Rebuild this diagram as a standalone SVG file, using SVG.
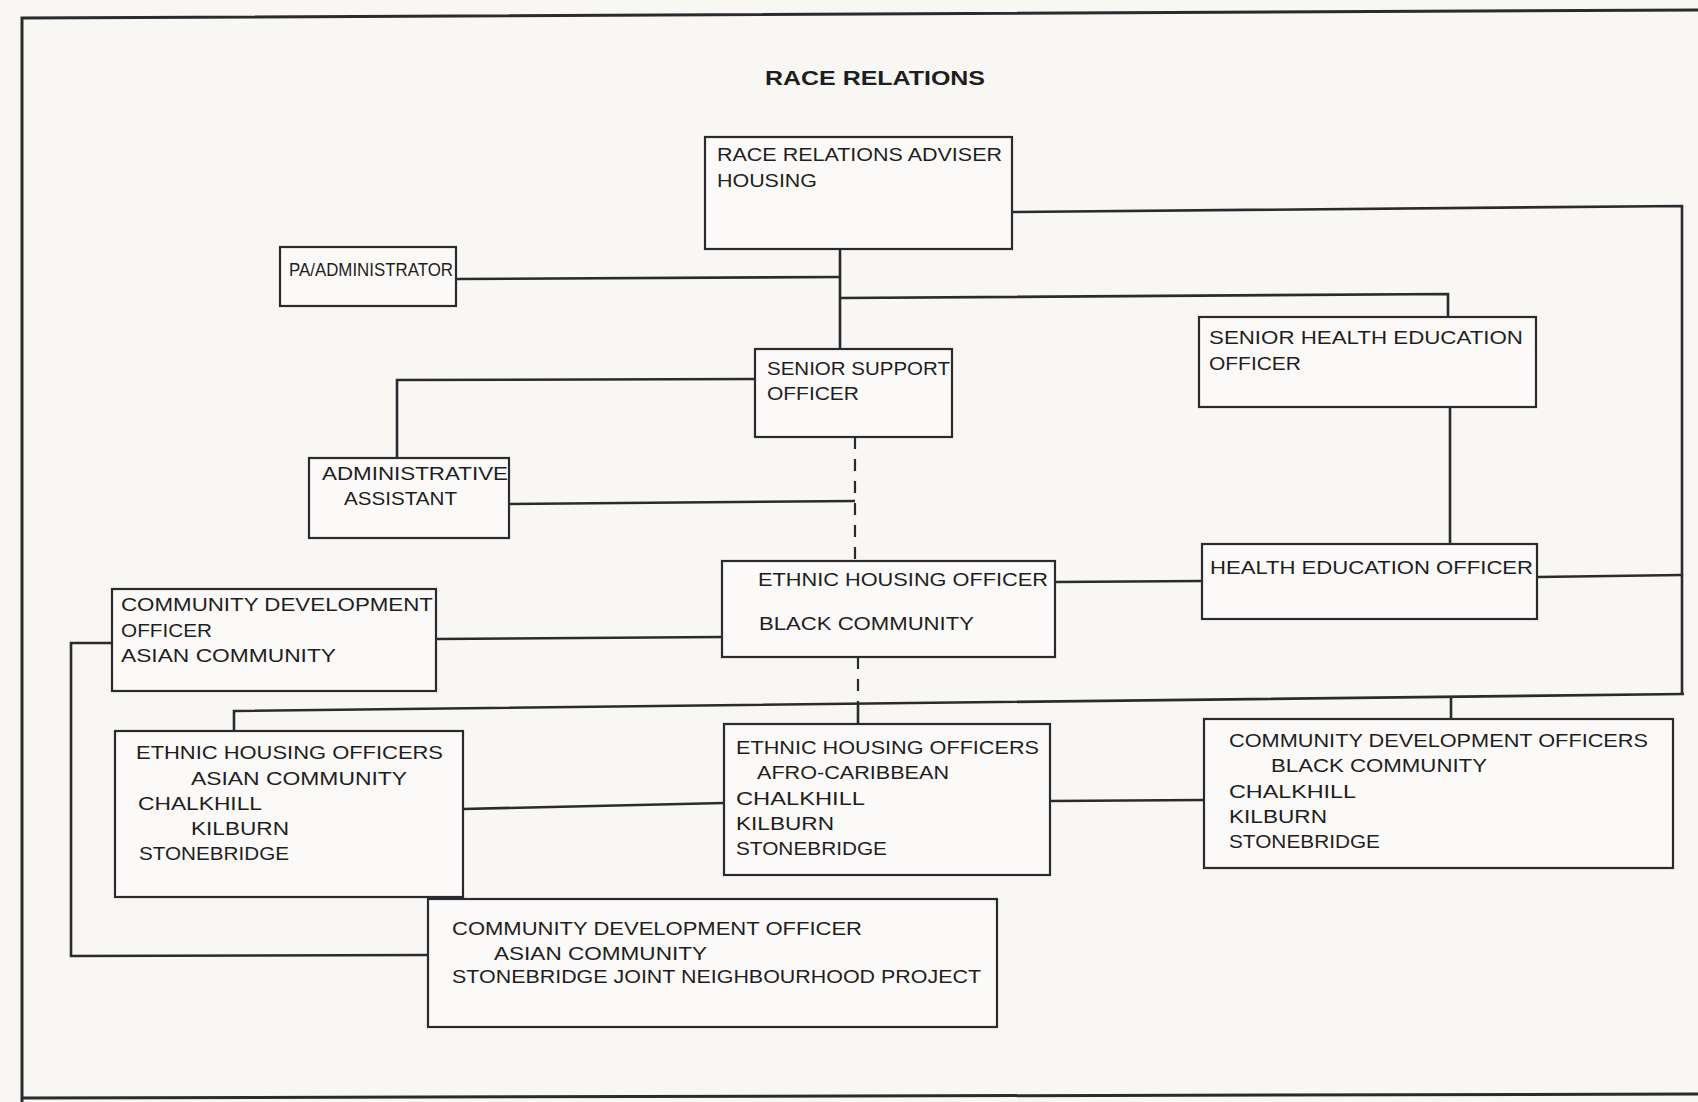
<svg xmlns="http://www.w3.org/2000/svg" width="1698" height="1102" viewBox="0 0 1698 1102">
<style>
.bg{fill:#f8f7f4}
.box{fill:#fbfaf8;stroke:#2b2a2e;stroke-width:2.2}
.ln{fill:none;stroke:#2b2a2e;stroke-width:2.6}
.dash{fill:none;stroke:#2b2a2e;stroke-width:2.2;stroke-dasharray:12 10}
.frame{fill:none;stroke:#2b2a2e;stroke-width:3}
text{font-family:"Liberation Sans",Arial,sans-serif;font-size:19px;fill:#1e1d22}
.title{font-size:21px;font-weight:bold}
</style>
<rect class="bg" x="0" y="0" width="1698" height="1102"/>
<g id="frame">
<polyline class="frame" points="22,1102 22,18 1698,10"/>
<line class="frame" x1="22" y1="1098" x2="1698" y2="1094"/>
</g>
<text class="title" x="765" y="85" textLength="220" lengthAdjust="spacingAndGlyphs">RACE RELATIONS</text>
<g id="connectors">
<polyline class="ln" points="1012,212 1682,206 1682,694"/>
<polyline class="ln" points="1684,694 234,711 234,731"/>
<line class="ln" x1="858" y1="704" x2="858" y2="724"/>
<line class="ln" x1="1451" y1="698" x2="1451" y2="719"/>
<line class="dash" x1="858" y1="657" x2="858" y2="704"/>
<line class="ln" x1="840" y1="249" x2="840" y2="349"/>
<line class="ln" x1="456" y1="279" x2="840" y2="277"/>
<polyline class="ln" points="840,298 1448,294 1448,317"/>
<polyline class="ln" points="755,379 397,380 397,458"/>
<line class="dash" x1="855" y1="437" x2="855" y2="561"/>
<line class="ln" x1="509" y1="504" x2="855" y2="501"/>
<line class="ln" x1="1450" y1="407" x2="1450" y2="544"/>
<line class="ln" x1="1055" y1="582" x2="1202" y2="581"/>
<line class="ln" x1="1537" y1="577" x2="1682" y2="575"/>
<line class="ln" x1="436" y1="639" x2="722" y2="637"/>
<polyline class="ln" points="112,643 71,643 71,956 428,955"/>
<line class="ln" x1="463" y1="809" x2="724" y2="803"/>
<line class="ln" x1="1050" y1="801" x2="1204" y2="800"/>
</g>
<g id="adviser">
<rect class="box" x="705" y="137" width="307" height="112"/>
<text x="717" y="161" textLength="285" lengthAdjust="spacingAndGlyphs">RACE RELATIONS ADVISER</text>
<text x="717" y="187" textLength="100" lengthAdjust="spacingAndGlyphs">HOUSING</text>
</g>
<g id="pa-administrator">
<rect class="box" x="280" y="247" width="176" height="59"/>
<text x="289" y="276" textLength="164" lengthAdjust="spacingAndGlyphs">PA/ADMINISTRATOR</text>
</g>
<g id="senior-support-officer">
<rect class="box" x="755" y="349" width="197" height="88"/>
<text x="767" y="375" textLength="183" lengthAdjust="spacingAndGlyphs">SENIOR SUPPORT</text>
<text x="767" y="400" textLength="92" lengthAdjust="spacingAndGlyphs">OFFICER</text>
</g>
<g id="senior-health-education-officer">
<rect class="box" x="1199" y="317" width="337" height="90"/>
<text x="1209" y="344" textLength="314" lengthAdjust="spacingAndGlyphs">SENIOR HEALTH EDUCATION</text>
<text x="1209" y="370" textLength="92" lengthAdjust="spacingAndGlyphs">OFFICER</text>
</g>
<g id="administrative-assistant">
<rect class="box" x="309" y="458" width="200" height="80"/>
<text x="322" y="480" textLength="186" lengthAdjust="spacingAndGlyphs">ADMINISTRATIVE</text>
<text x="344" y="505" textLength="113" lengthAdjust="spacingAndGlyphs">ASSISTANT</text>
</g>
<g id="ethnic-housing-officer-black">
<rect class="box" x="722" y="561" width="333" height="96"/>
<text x="758" y="586" textLength="290" lengthAdjust="spacingAndGlyphs">ETHNIC HOUSING OFFICER</text>
<text x="759" y="630" textLength="215" lengthAdjust="spacingAndGlyphs">BLACK COMMUNITY</text>
</g>
<g id="health-education-officer">
<rect class="box" x="1202" y="544" width="335" height="75"/>
<text x="1210" y="574" textLength="323" lengthAdjust="spacingAndGlyphs">HEALTH EDUCATION OFFICER</text>
</g>
<g id="community-development-officer-asian">
<rect class="box" x="112" y="589" width="324" height="102"/>
<text x="121" y="611" textLength="312" lengthAdjust="spacingAndGlyphs">COMMUNITY DEVELOPMENT</text>
<text x="121" y="637" textLength="91" lengthAdjust="spacingAndGlyphs">OFFICER</text>
<text x="121" y="662" textLength="215" lengthAdjust="spacingAndGlyphs">ASIAN COMMUNITY</text>
</g>
<g id="ethnic-housing-officers-asian">
<rect class="box" x="115" y="731" width="348" height="166"/>
<text x="136" y="759" textLength="307" lengthAdjust="spacingAndGlyphs">ETHNIC HOUSING OFFICERS</text>
<text x="191" y="785" textLength="216" lengthAdjust="spacingAndGlyphs">ASIAN COMMUNITY</text>
<text x="138" y="810" textLength="124" lengthAdjust="spacingAndGlyphs">CHALKHILL</text>
<text x="191" y="835" textLength="98" lengthAdjust="spacingAndGlyphs">KILBURN</text>
<text x="139" y="860" textLength="150" lengthAdjust="spacingAndGlyphs">STONEBRIDGE</text>
</g>
<g id="ethnic-housing-officers-afro-caribbean">
<rect class="box" x="724" y="724" width="326" height="151"/>
<text x="736" y="754" textLength="303" lengthAdjust="spacingAndGlyphs">ETHNIC HOUSING OFFICERS</text>
<text x="757" y="779" textLength="192" lengthAdjust="spacingAndGlyphs">AFRO-CARIBBEAN</text>
<text x="736" y="805" textLength="129" lengthAdjust="spacingAndGlyphs">CHALKHILL</text>
<text x="736" y="830" textLength="98" lengthAdjust="spacingAndGlyphs">KILBURN</text>
<text x="736" y="855" textLength="151" lengthAdjust="spacingAndGlyphs">STONEBRIDGE</text>
</g>
<g id="community-development-officers-black">
<rect class="box" x="1204" y="719" width="469" height="149"/>
<text x="1229" y="747" textLength="419" lengthAdjust="spacingAndGlyphs">COMMUNITY DEVELOPMENT OFFICERS</text>
<text x="1271" y="772" textLength="216" lengthAdjust="spacingAndGlyphs">BLACK COMMUNITY</text>
<text x="1229" y="798" textLength="127" lengthAdjust="spacingAndGlyphs">CHALKHILL</text>
<text x="1229" y="823" textLength="98" lengthAdjust="spacingAndGlyphs">KILBURN</text>
<text x="1229" y="848" textLength="151" lengthAdjust="spacingAndGlyphs">STONEBRIDGE</text>
</g>
<g id="community-development-officer-stonebridge">
<rect class="box" x="428" y="899" width="569" height="128"/>
<text x="452" y="935" textLength="410" lengthAdjust="spacingAndGlyphs">COMMUNITY DEVELOPMENT OFFICER</text>
<text x="494" y="960" textLength="213" lengthAdjust="spacingAndGlyphs">ASIAN COMMUNITY</text>
<text x="452" y="983" textLength="529" lengthAdjust="spacingAndGlyphs">STONEBRIDGE JOINT NEIGHBOURHOOD PROJECT</text>
</g>
</svg>
